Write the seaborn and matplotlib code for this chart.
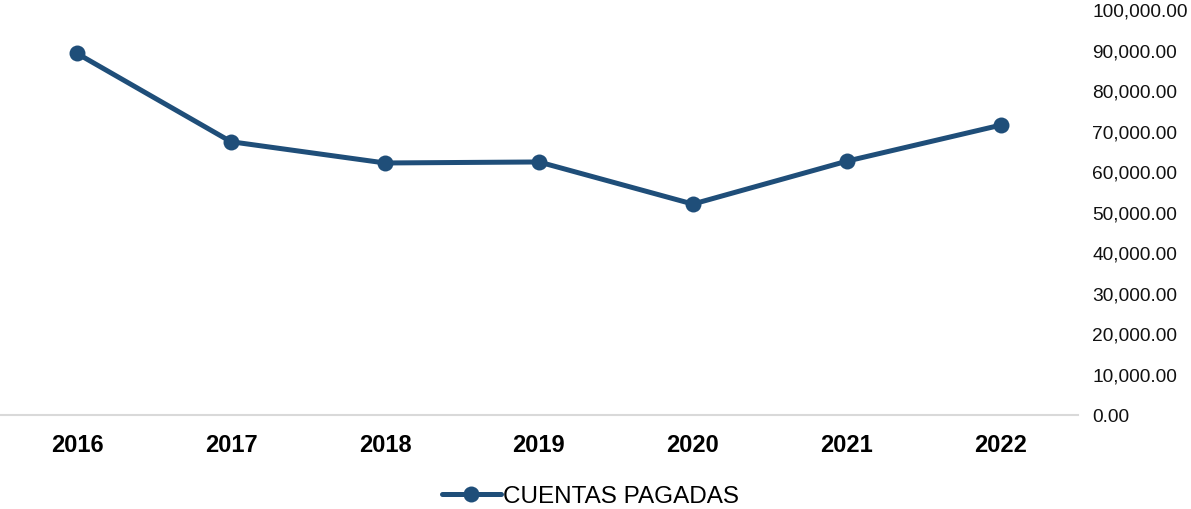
import pandas as pd
import numpy as np
import matplotlib
matplotlib.use('Agg')
import matplotlib.pyplot as plt
import seaborn as sns
from matplotlib.ticker import FuncFormatter

# datos
anios = ['2016', '2017', '2018', '2019', '2020', '2021', '2022']
cuentas_pagadas = [89400, 67600, 62350, 62600, 52200, 62800, 71700]

sns.set_theme(style='white')
plt.rcParams['font.family'] = ['Liberation Sans', 'DejaVu Sans']

data = pd.DataFrame({'anio': anios, 'valor': cuentas_pagadas})
color = '#1F4E79'

fig = plt.figure(figsize=(11.91, 5.09), dpi=100)
ax = fig.add_axes([0.0, 0.1837, 0.905, 0.7957])

sns.lineplot(data=data, x='anio', y='valor', ax=ax, color=color, linewidth=3.6,
             marker='o', markersize=11.5, markeredgewidth=0, label='CUENTAS PAGADAS',
             sort=False)

ax.set_xlim(-0.5, 6.5)
ax.set_ylim(0, 100000)
ax.set_yticks(np.arange(0, 100001, 10000))
ax.yaxis.set_major_formatter(FuncFormatter(lambda v, p: '{:,.2f}'.format(v)))
ax.yaxis.tick_right()
ax.tick_params(axis='y', length=0, pad=10.5, labelsize=13.8, labelcolor='#111111')
ax.tick_params(axis='x', length=0, pad=13, labelsize=17, labelcolor='black')
for t in ax.get_xticklabels():
    t.set_fontweight('bold')
ax.set_xlabel('')
ax.set_ylabel('')

for s in ['top', 'left', 'right']:
    ax.spines[s].set_visible(False)
ax.spines['bottom'].set_color('#d9d9d9')
ax.spines['bottom'].set_linewidth(1.5)

leg = ax.legend(loc='center', bbox_to_anchor=(0.548, -0.2), frameon=False, fontsize=17.5,
                handlelength=2.4, handletextpad=0.1)
for t in leg.get_texts():
    t.set_color('black')

plt.savefig('out.png', dpi=100)
